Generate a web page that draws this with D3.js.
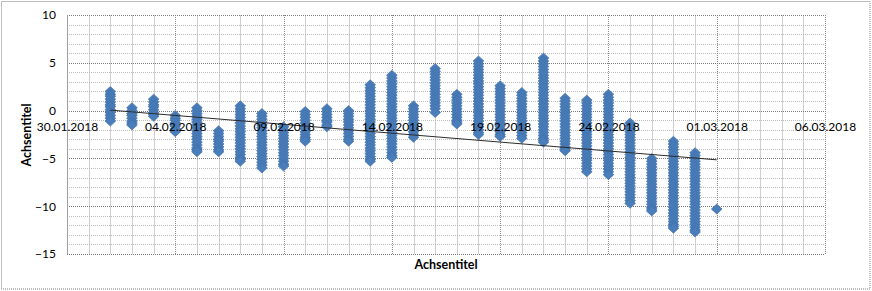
<!DOCTYPE html>
<html>
<head>
<meta charset="utf-8">
<script src="https://cdn.jsdelivr.net/npm/d3@7"></script>
<style>
  html, body { margin: 0; padding: 0; background: #fff; }
  svg { display: block; font-family: Lato, "Open Sans", sans-serif; }
</style>
</head>
<body>
<svg id="chart" width="872" height="291"></svg>
<script>
// ---- data ----
const days = ["01.02.2018","02.02.2018","03.02.2018","04.02.2018","05.02.2018","06.02.2018","07.02.2018",
  "08.02.2018","09.02.2018","10.02.2018","11.02.2018","12.02.2018","13.02.2018","14.02.2018","15.02.2018",
  "16.02.2018","17.02.2018","18.02.2018","19.02.2018","20.02.2018","21.02.2018","22.02.2018","23.02.2018",
  "24.02.2018","25.02.2018","26.02.2018","27.02.2018","28.02.2018","01.03.2018"];

const readings = [
  [2.0,1.7,1.5,1.2,0.9,0.6,0.4,0.1,-0.2,-0.5,-0.8,-1.1],
  [0.3,0.0,-0.3,-0.5,-0.8,-1.1,-1.3,-1.5],
  [1.2,0.9,0.6,0.4,0.1,-0.2,-0.4,-0.6],
  [-0.5,-0.8,-1.0,-1.3,-1.6,-1.9,-2.2],
  [0.3,0.0,-0.3,-0.6,-0.9,-1.2,-1.5,-1.8,-2.1,-2.4,-2.7,-3.0,-3.3,-3.6,-3.9,-4.1,-4.3],
  [-2.1,-2.4,-2.7,-3.0,-3.2,-3.5,-3.8,-4.1,-4.3],
  [0.5,0.2,-0.1,-0.4,-0.7,-1.0,-1.3,-1.6,-1.9,-2.2,-2.5,-2.8,-3.1,-3.4,-3.7,-4.0,-4.3,-4.6,-4.9,-5.1,-5.3],
  [-0.3,-0.6,-0.9,-1.2,-1.5,-1.8,-2.1,-2.4,-2.7,-3.0,-3.3,-3.6,-3.9,-4.2,-4.5,-4.8,-5.1,-5.4,-5.7,-6.0],
  [-1.7,-2.0,-2.3,-2.6,-2.9,-3.2,-3.5,-3.8,-4.1,-4.4,-4.7,-5.0,-5.3,-5.6,-5.8],
  [-0.1,-0.4,-0.7,-1.0,-1.3,-1.6,-1.9,-2.2,-2.5,-2.8,-3.0,-3.2],
  [0.2,-0.1,-0.4,-0.7,-1.0,-1.2,-1.5,-1.7],
  [0.0,-0.3,-0.6,-0.9,-1.2,-1.5,-1.8,-2.1,-2.4,-2.7,-3.0,-3.2],
  [2.7,2.4,2.1,1.8,1.5,1.2,0.9,0.6,0.3,0.0,-0.3,-0.6,-0.9,-1.2,-1.5,-1.8,-2.1,-2.4,-2.7,-3.0,-3.3,-3.6,-3.9,-4.2,-4.5,-4.8,-5.1,-5.3],
  [3.7,3.4,3.1,2.8,2.5,2.2,1.9,1.6,1.3,1.0,0.7,0.4,0.1,-0.2,-0.5,-0.8,-1.1,-1.4,-1.7,-2.0,-2.3,-2.6,-2.9,-3.2,-3.5,-3.8,-4.1,-4.4,-4.7,-4.9],
  [0.5,0.2,-0.1,-0.4,-0.7,-1.0,-1.3,-1.6,-1.9,-2.2,-2.5,-2.8],
  [4.4,4.1,3.8,3.5,3.2,2.9,2.6,2.3,2.0,1.7,1.4,1.1,0.8,0.5,0.2,-0.2],
  [1.7,1.4,1.1,0.8,0.5,0.2,-0.1,-0.4,-0.7,-1.0,-1.2,-1.4],
  [5.2,4.9,4.6,4.3,4.0,3.7,3.4,3.1,2.8,2.5,2.2,1.9,1.6,1.3,1.0,0.7,0.4,0.1,-0.2,-0.5,-0.8,-1.1,-1.4,-1.7,-2.0,-2.3,-2.5],
  [2.6,2.3,2.0,1.7,1.4,1.1,0.8,0.5,0.2,-0.1,-0.4,-0.7,-1.0,-1.3,-1.6,-1.9,-2.2,-2.5,-2.7],
  [1.9,1.6,1.3,1.0,0.7,0.4,0.1,-0.2,-0.5,-0.8,-1.1,-1.4,-1.7,-2.0,-2.3,-2.6,-2.9],
  [5.5,5.2,4.9,4.6,4.3,4.0,3.7,3.4,3.1,2.8,2.5,2.2,1.9,1.6,1.3,1.0,0.7,0.4,0.1,-0.2,-0.5,-0.8,-1.1,-1.4,-1.7,-2.0,-2.3,-2.6,-2.9,-3.1,-3.3],
  [1.3,1.0,0.7,0.4,0.1,-0.2,-0.5,-0.8,-1.1,-1.4,-1.7,-2.0,-2.3,-2.6,-2.9,-3.2,-3.5,-3.8,-4.0,-4.2],
  [1.1,0.8,0.5,0.2,-0.1,-0.4,-0.7,-1.0,-1.3,-1.6,-1.9,-2.2,-2.5,-2.8,-3.1,-3.4,-3.7,-4.0,-4.3,-4.6,-4.9,-5.2,-5.5,-5.8,-6.1,-6.4],
  [1.7,1.4,1.1,0.8,0.5,0.2,-0.1,-0.4,-0.7,-1.0,-1.3,-1.6,-1.9,-2.2,-2.5,-2.8,-3.1,-3.4,-3.7,-4.0,-4.3,-4.6,-4.9,-5.2,-5.5,-5.8,-6.1,-6.4,-6.7],
  [-1.3,-1.6,-1.9,-2.2,-2.5,-2.8,-3.1,-3.4,-3.7,-4.0,-4.3,-4.6,-4.9,-5.2,-5.5,-5.8,-6.1,-6.4,-6.7,-7.0,-7.3,-7.6,-7.9,-8.2,-8.5,-8.8,-9.1,-9.4,-9.7],
  [-5.0,-5.3,-5.6,-5.9,-6.2,-6.5,-6.8,-7.1,-7.4,-7.7,-8.0,-8.3,-8.6,-8.9,-9.2,-9.5,-9.8,-10.1,-10.3,-10.5],
  [-3.2,-3.5,-3.8,-4.1,-4.4,-4.7,-5.0,-5.3,-5.6,-5.9,-6.2,-6.5,-6.8,-7.1,-7.4,-7.7,-8.0,-8.3,-8.6,-8.9,-9.2,-9.5,-9.8,-10.1,-10.4,-10.7,-11.0,-11.3,-11.6,-11.9,-12.1,-12.3],
  [-4.4,-4.7,-5.0,-5.3,-5.6,-5.9,-6.2,-6.5,-6.8,-7.1,-7.4,-7.7,-8.0,-8.3,-8.6,-8.9,-9.2,-9.5,-9.8,-10.1,-10.4,-10.7,-11.0,-11.3,-11.6,-11.9,-12.2,-12.5,-12.7],
  [-10.3]
];

// linear trendline endpoints (as drawn)
const trendDays = ["01.02.2018", "01.03.2018"];
const trendValues = [0.05, -5.15];

const xTickLabels = ["30.01.2018","04.02.2018","09.02.2018","14.02.2018","19.02.2018","24.02.2018","01.03.2018","06.03.2018"];
const yTicks = [10, 5, 0, -5, -10, -15];
const yMinorTicks = [9,8,7,6,4,3,2,1,-1,-2,-3,-4,-6,-7,-8,-9,-11,-12,-13,-14];
const xAxisTitle = "Achsentitel";
const yAxisTitle = "Achsentitel";

// ---- helpers ----
const parseDay = s => { const [d, m, y] = s.split(".").map(Number); return new Date(Date.UTC(y, m - 1, d)); };

const svg = d3.select("#chart");
const W = 872, H = 291;
const plot = { left: 67, right: 825, top: 15, bottom: 254 };

const x = d3.scaleUtc()
  .domain([parseDay(xTickLabels[0]), parseDay(xTickLabels[xTickLabels.length - 1])])
  .range([plot.left, plot.right]);
const y = d3.scaleLinear().domain([-15, 10]).range([plot.bottom, plot.top]);

// chart border
svg.append("rect").attr("x", 1.5).attr("y", 1.5).attr("width", W - 3.5).attr("height", H - 3.5)
  .attr("fill", "#fff").attr("stroke", "#7f7f7f").attr("stroke-dasharray", "1,1");

const g = svg.append("g");

// minor vertical gridlines (each day)
const dayTicks = d3.utcDay.range(x.domain()[0], d3.utcDay.offset(x.domain()[1], 1));
const majorSet = new Set(xTickLabels.map(s => +parseDay(s)));
g.append("g").selectAll("line").data(dayTicks.filter(d => !majorSet.has(+d))).join("line")
  .attr("x1", d => Math.round(x(d)) + 0.5).attr("x2", d => Math.round(x(d)) + 0.5)
  .attr("y1", plot.top).attr("y2", plot.bottom)
  .attr("stroke", "#cfcfcf").attr("stroke-width", 1);

// minor horizontal gridlines
g.append("g").selectAll("line").data(yMinorTicks).join("line")
  .attr("x1", plot.left).attr("x2", plot.right)
  .attr("y1", v => Math.round(y(v)) + 0.5).attr("y2", v => Math.round(y(v)) + 0.5)
  .attr("stroke", "#bdbdbd").attr("stroke-dasharray", "1,1");

// major vertical gridlines
g.append("g").selectAll("line").data(xTickLabels.map(parseDay)).join("line")
  .attr("x1", d => Math.round(x(d)) + 0.5).attr("x2", d => Math.round(x(d)) + 0.5)
  .attr("y1", plot.top).attr("y2", plot.bottom)
  .attr("stroke", "#8c8c8c").attr("stroke-dasharray", "1,1");

// major horizontal gridlines
g.append("g").selectAll("line").data(yTicks).join("line")
  .attr("x1", plot.left).attr("x2", plot.right)
  .attr("y1", v => Math.round(y(v)) + 0.5).attr("y2", v => Math.round(y(v)) + 0.5)
  .attr("stroke", "#7a7a7a").attr("stroke-dasharray", "1,1");

// y axis line
g.append("line").attr("x1", plot.left + 0.5).attr("x2", plot.left + 0.5)
  .attr("y1", plot.top).attr("y2", plot.bottom).attr("stroke", "#a0a0a0");

// y axis labels
const yAxis = d3.axisLeft(y).tickValues(yTicks).tickSize(0).tickPadding(11).tickFormat(d3.format("d"));
const yg = svg.append("g").attr("transform", `translate(${plot.left},0)`).call(yAxis);
yg.select(".domain").remove();
yg.selectAll("text").attr("font-size", 12).attr("fill", "#000").attr("font-family", "Lato, sans-serif");

// points
const points = [];
days.forEach((d, i) => readings[i].forEach(v => points.push({ d: parseDay(d), v })));
const diamond = "M0,-5L5.4,0L0,5L-5.4,0Z";
svg.append("g").selectAll("path").data(points).join("path")
  .attr("d", diamond)
  .attr("transform", p => `translate(${x(p.d)},${y(p.v)})`)
  .attr("fill", "#4a7ebb").attr("stroke", "#3b6aa3").attr("stroke-width", 0.6);

// trendline
svg.append("line")
  .attr("x1", x(parseDay(trendDays[0]))).attr("y1", y(trendValues[0]))
  .attr("x2", x(parseDay(trendDays[1]))).attr("y2", y(trendValues[1]))
  .attr("stroke", "#2b2b2b").attr("stroke-width", 1);

// x axis labels (crossing at y = 0), drawn over the markers
const xAxis = d3.axisBottom(x).tickValues(xTickLabels.map(parseDay)).tickSize(0).tickPadding(12)
  .tickFormat((d, i) => xTickLabels[i]);
const xg = svg.append("g").attr("transform", `translate(0,${y(0)})`).call(xAxis);
xg.select(".domain").remove();
xg.selectAll("text").attr("font-size", 12).attr("fill", "#000").attr("font-family", "Lato, sans-serif");

// axis titles
svg.append("text").text(xAxisTitle)
  .attr("x", (plot.left + plot.right) / 2).attr("y", 269)
  .attr("text-anchor", "middle").attr("font-weight", "bold").attr("font-size", 12.5)
  .attr("font-family", "Lato, sans-serif");
svg.append("text").text(yAxisTitle)
  .attr("transform", "translate(31,135) rotate(-90)")
  .attr("text-anchor", "middle").attr("font-weight", "bold").attr("font-size", 12.5)
  .attr("font-family", "Lato, sans-serif");
</script>
</body>
</html>
